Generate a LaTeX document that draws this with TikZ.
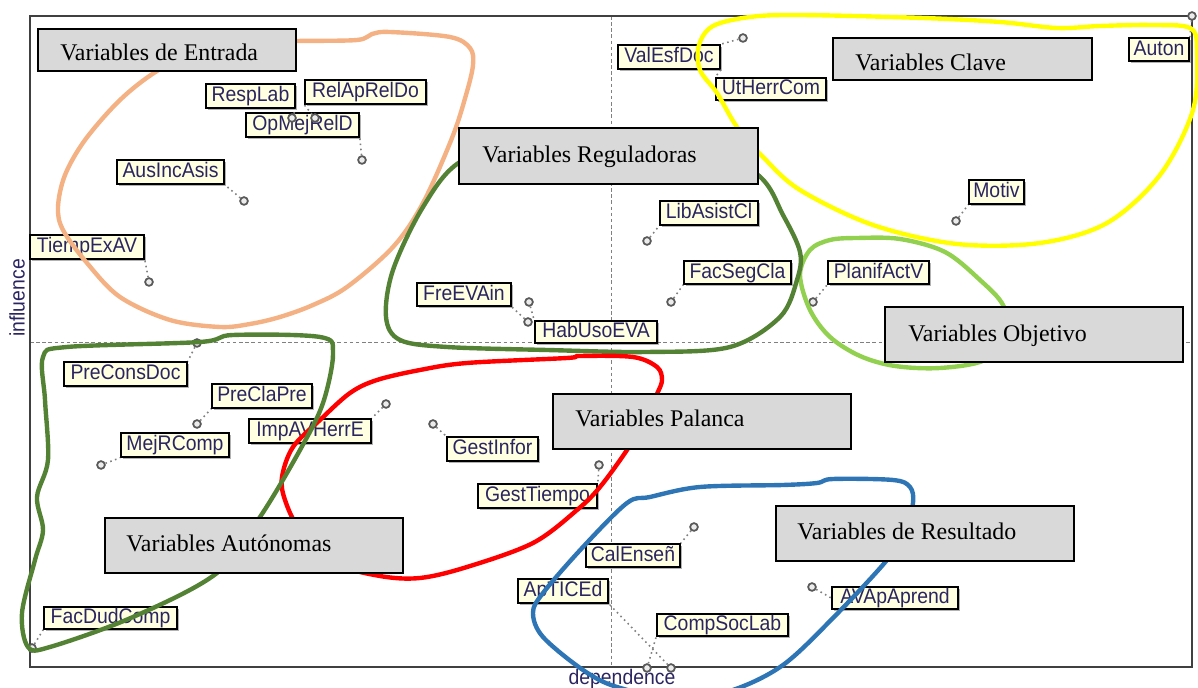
\documentclass[tikz,border=0pt]{standalone}
\usepackage{fontspec}
\setmainfont{Liberation Serif}
\newfontfamily\labfont[FakeStretch=0.92]{Liberation Sans}
\usetikzlibrary{shadows}
\definecolor{orangec}{HTML}{F4B183}
\definecolor{yellowc}{HTML}{FFFF00}
\definecolor{dgreen}{HTML}{548235}
\definecolor{lgreen}{HTML}{92D050}
\definecolor{redc}{HTML}{FF0000}
\definecolor{bluec}{HTML}{2E75B6}
\definecolor{catgray}{HTML}{D9D9D9}
\definecolor{cream}{HTML}{FFFFE1}
\definecolor{labtext}{HTML}{2A2460}
\tikzset{
  labbox/.style={draw=black, line width=0.9pt, fill=cream, inner sep=0pt,
    font=\labfont\fontsize{12}{14}\selectfont, text=labtext, text height=8.8pt, text depth=2.2pt,
    drop shadow={shadow xshift=1.3pt, shadow yshift=-1.3pt, fill=black, opacity=0.3}},
  pt/.style={circle, draw=black!65, fill=gray!15, line width=1pt, inner sep=0pt, minimum size=4.4pt},
  leader/.style={draw=gray, dotted, line width=0.9pt},
  catbox/.style={draw=black, line width=1.1pt, fill=catgray, inner sep=0pt},
  cattext/.style={anchor=base west, inner sep=0pt, font=\fontsize{13.6}{16}\selectfont},
  blob/.style={line width=2.5pt, line join=round},
  axislab/.style={font=\labfont\fontsize{12}{14}\selectfont, text=labtext, inner sep=0pt},
}
% name, x1, y1, x2, y2, text
\newcommand\labnode[6]{\node[labbox, minimum width={(#4-#2)*0.02cm}, minimum height={(#5-#3)*0.02cm}] (#1) at ({(#2+#4)/2},{(#3+#5)/2}) {#6};}
% name, x1, y1, x2, y2
\newcommand\catnode[5]{\node[catbox, minimum width={(#4-#2)*0.02cm}, minimum height={(#5-#3)*0.02cm}] (#1) at ({(#2+#4)/2},{(#3+#5)/2}) {};}
\begin{document}
\begin{tikzpicture}[x=0.02cm, y=-0.02cm]
\useasboundingbox (0,0) rectangle (1198,688);
\clip (0,0) rectangle (1198,688);
% frame and axes
\draw[gray, dashed, dash pattern=on 2pt off 1.5pt, line width=0.5pt] (30,342) -- (1192,342);
\draw[gray, dashed, dash pattern=on 2pt off 1.5pt, line width=0.5pt] (611,16) -- (611,667);
\draw[black!75, line width=1pt] (30,16) rectangle (1192,667);
\node[axislab, rotate=90] (infl) at (17,298) {influence};
\node[axislab] (dep) at (622,679) {dependence};

% labels
\labnode{RespLab}{206}{84}{295}{108}{RespLab}
\labnode{RelApRelDo}{305}{80}{426}{104}{RelApRelDo}
\labnode{OpMejRelD}{246}{113}{359}{137}{OpMejRelD}
\labnode{AusIncAsis}{117}{160}{224}{184}{AusIncAsis}
\labnode{TiempExAV}{30}{235}{144}{259}{TiempExAV}
\labnode{ValEsfDoc}{618}{45}{720}{69}{ValEsfDoc}
\labnode{UtHerrCom}{716}{78}{826}{100}{UtHerrCom}
\labnode{LibAsistCl}{660}{201}{758}{225}{LibAsistCl}
\labnode{FacSegCla}{684}{261}{791}{284}{FacSegCla}
\labnode{FreEVAin}{417}{283}{511}{306}{FreEVAin}
\labnode{HabUsoEVA}{535}{321}{657}{343}{HabUsoEVA}
\labnode{Auton}{1129}{38}{1189}{61}{Auton}
\labnode{Motiv}{969}{180}{1024}{204}{Motiv}
\labnode{PlanifActV}{828}{261}{929}{284}{PlanifActV}
\labnode{PreConsDoc}{64}{362}{187}{386}{PreConsDoc}
\labnode{PreClaPre}{212}{384}{312}{408}{PreClaPre}
\labnode{ImpAVHerrE}{249}{419}{371}{443}{ImpAVHerrE}
\labnode{MejRComp}{121}{433}{229}{457}{MejRComp}
\labnode{FacDudComp}{44}{607}{177}{629}{FacDudComp}
\labnode{GestInfor}{447}{437}{538}{461}{GestInfor}
\labnode{GestTiempo}{478}{484}{597}{508}{GestTiempo}
\labnode{CalEnsen}{586}{544}{680}{567}{CalEnseñ}
\labnode{ApTICEd}{518}{579}{608}{603}{ApTICEd}
\labnode{CompSocLab}{657}{614}{788}{636}{CompSocLab}
\labnode{AVApAprend}{832}{587}{958}{609}{AVApAprend}

% points
\node[pt] (RespLabP) at (292,118) {};
\node[pt] (RelApRelDoP) at (315,118) {};
\node[pt] (OpMejRelDP) at (362,160) {};
\node[pt] (AusIncAsisP) at (244,201) {};
\node[pt] (TiempExAVP) at (149,282) {};
\node[pt] (ValEsfDocP) at (743,38) {};
\node[pt] (LibAsistClP) at (647,241) {};
\node[pt] (FacSegClaP) at (671,302) {};
\node[pt] (FreEVAinP) at (528,322) {};
\node[pt] (HabUsoEVAP) at (529,302) {};
\node[pt] (AutonP) at (1192,16) {};
\node[pt] (MotivP) at (956,221) {};
\node[pt] (PlanifActVP) at (813,302) {};
\node[pt] (PreConsDocP) at (197,343) {};
\node[pt] (PreClaPreP) at (197,424) {};
\node[pt] (ImpAVHerrEP) at (386,404) {};
\node[pt] (MejRCompP) at (101,465) {};
\node[pt] (FacDudCompP) at (32,648) {};
\node[pt] (GestInforP) at (433,424) {};
\node[pt] (GestTiempoP) at (599,465) {};
\node[pt] (CalEnsenP) at (694,527) {};
\node[pt] (ApTICEdP) at (671,668) {};
\node[pt] (CompSocLabP) at (647,668) {};
\node[pt] (AVApAprendP) at (812,587) {};

% leaders
\draw[leader] (RespLabP) -- (RespLab.south east);
\draw[leader] (RelApRelDoP) -- (RelApRelDo.south west);
\draw[leader] (OpMejRelDP) -- (OpMejRelD.south east);
\draw[leader] (AusIncAsisP) -- (AusIncAsis.south east);
\draw[leader] (TiempExAVP) -- (TiempExAV.south east);
\draw[leader] (ValEsfDocP) -- (ValEsfDoc.north east);
\draw[leader] (ValEsfDoc.south east) -- (UtHerrCom.north west);
\draw[leader] (LibAsistClP) -- (LibAsistCl.south west);
\draw[leader] (FacSegClaP) -- (FacSegCla.south west);
\draw[leader] (FreEVAinP) -- (FreEVAin.south east);
\draw[leader] (HabUsoEVAP) -- (HabUsoEVA.north west);
\draw[leader] (AutonP) -- (Auton.north east);
\draw[leader] (MotivP) -- (Motiv.south west);
\draw[leader] (PlanifActVP) -- (PlanifActV.south west);
\draw[leader] (PreConsDocP) -- (PreConsDoc.north east);
\draw[leader] (PreClaPreP) -- (PreClaPre.south west);
\draw[leader] (ImpAVHerrEP) -- (ImpAVHerrE.north east);
\draw[leader] (MejRCompP) -- (MejRComp.south west);
\draw[leader] (FacDudCompP) -- (FacDudComp.south west);
\draw[leader] (GestInforP) -- (GestInfor.north west);
\draw[leader] (GestTiempoP) -- (GestTiempo.north east);
\draw[leader] (CalEnsenP) -- (CalEnsen.north east);
\draw[leader] (ApTICEdP) -- (ApTICEd.south east);
\draw[leader] (CompSocLabP) -- (CompSocLab.south west);
\draw[leader] (AVApAprendP) -- (AVApAprend.west);

% blobs
\draw[blob, orangec] plot[smooth cycle, tension=0.55] coordinates {
 (297,41) (357,40) (372,34) (390,32) (450,37) (470,48) (473,65) (466,95) (452,138) (423,203)
 (393,247) (347,287) (313,305) (280,317) (250,324) (220,327) (170,320) (120,297) (87,263)
 (63,230) (58,207) (65,175) (85,140) (120,100) (157,71) (200,50) (250,42)};
\draw[blob, yellowc] plot[smooth cycle, tension=0.55] coordinates {
 (713,26) (750,17) (800,15) (923,18) (1000,22) (1057,28) (1100,26) (1150,25) (1190,28) (1197,50)
 (1193,110) (1160,175) (1107,223) (1040,243) (957,244) (873,225) (800,190) (763,157)
 (737,127) (717,93) (700,70) (699,45)};
\draw[blob, lgreen] plot[smooth cycle, tension=0.55] coordinates {
 (857,238) (900,239) (945,252) (980,280) (1003,305) (1008,335) (985,360) (940,368) (895,366)
 (860,356) (830,337) (810,310) (800,275) (810,250) (830,240)};
\draw[blob, dgreen] plot[smooth cycle, tension=0.55] coordinates {
 (613,131) (690,140) (758,175) (783,215) (800,252) (797,280) (780,317) (730,347) (647,352)
 (547,350) (447,347) (400,340) (386,317) (393,270) (423,207) (460,162) (530,140)};
\draw[blob, redc] plot[smooth cycle, tension=0.55] coordinates {
 (657,394) (662,380) (657,367) (633,357) (580,356) (567,358) (467,363) (420,370) (377,380)
 (350,393) (320,420) (293,447) (282,477) (285,500) (300,530) (335,563) (380,576) (420,578)
 (467,567) (533,543) (577,510) (600,487) (627,450) (645,420)};
\draw[blob, bluec] plot[smooth cycle, tension=0.55] coordinates {
 (913,503) (910,487) (893,480) (833,479) (817,483) (783,485) (700,487) (650,497) (627,503)
 (583,547) (543,593) (533,613) (543,637) (583,670) (617,687) (680,700) (733,690) (783,665)
 (833,618) (887,560) (905,530)};
\draw[blob, dgreen] plot[smooth cycle, tension=0.55] coordinates {
 (43,357) (67,347) (200,342) (233,335) (320,337) (333,353) (323,403) (300,450) (260,517)
 (217,573) (133,617) (50,647) (28,647) (22,613) (35,560) (43,530) (37,497) (48,460) (45,400)};

% category boxes
\catnode{cEntrada}{38}{29}{296}{71}
\node[cattext] (tEntrada) at (60,61) {Variables de Entrada};
\catnode{cClave}{833}{38}{1092}{80}
\node[cattext] (tClave) at (855,71) {Variables Clave};
\catnode{cReg}{459}{128}{758}{184}
\node[cattext] (tReg) at (482,163) {Variables Reguladoras};
\catnode{cObj}{885}{307}{1183}{362}
\node[cattext] (tObj) at (908,342) {Variables Objetivo};
\catnode{cPal}{553}{394}{851}{449}
\node[cattext] (tPal) at (575,427) {Variables Palanca};
\catnode{cRes}{776}{506}{1074}{561}
\node[cattext] (tRes) at (797,540) {Variables de Resultado};
\catnode{cAut}{105}{518}{403}{573}
\node[cattext] (tAut) at (126,552) {Variables Autónomas};
\end{tikzpicture}
\end{document}
